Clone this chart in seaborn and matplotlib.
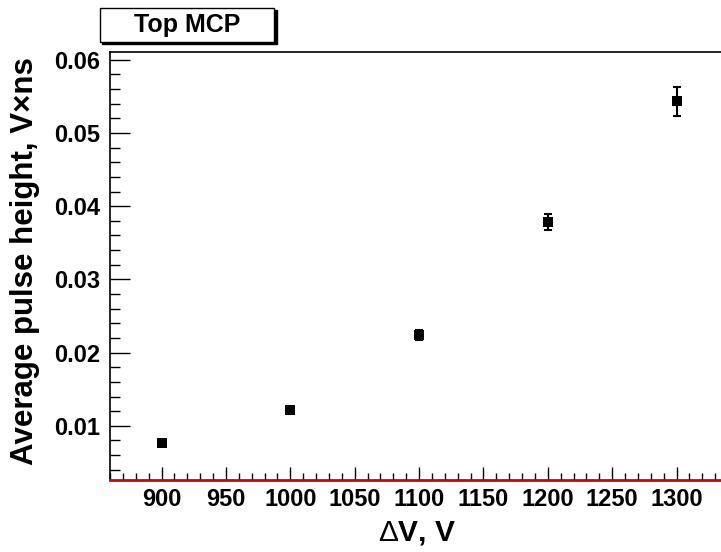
import matplotlib
matplotlib.use("Agg")
import matplotlib.pyplot as plt
import seaborn as sns
import pandas as pd
from matplotlib.ticker import MultipleLocator
from matplotlib.patches import Rectangle

voltage = [900, 1000, 1100, 1200, 1300]
pulse_height = [0.0076, 0.0122, 0.0224, 0.0378, 0.0543]
pulse_err = [0.0003, 0.0004, 0.0007, 0.0011, 0.0020]
x_ticks = [900, 950, 1000, 1050, 1100, 1150, 1200, 1250, 1300]
y_ticks = [0.01, 0.02, 0.03, 0.04, 0.05, 0.06]

df = pd.DataFrame({"dV": voltage, "ph": pulse_height, "err": pulse_err})

sns.set_style("white")
plt.rcParams['font.family'] = ['Liberation Sans', 'DejaVu Sans']
plt.rcParams['text.color'] = 'black'
plt.rcParams['axes.labelcolor'] = 'black'
plt.rcParams['xtick.color'] = 'black'
plt.rcParams['ytick.color'] = 'black'
plt.rcParams['mathtext.fontset'] = 'custom'
plt.rcParams['mathtext.rm'] = 'Liberation Sans'
plt.rcParams['mathtext.it'] = 'Liberation Sans:italic'
plt.rcParams['mathtext.bf'] = 'Liberation Sans:bold'

fig = plt.figure(figsize=(7.21, 5.52), dpi=100)
ax = fig.add_axes([110/721, 1-480/552, (728-110)/721, (480-51.7)/552])

ax.errorbar(df["dV"], df["ph"], yerr=df["err"], fmt="none", ecolor="black",
            elinewidth=1.5, capsize=3, capthick=1.5, zorder=2)
sns.scatterplot(data=df, x="dV", y="ph", marker="s", s=50, color="black",
                edgecolor="black", linewidth=0, ax=ax, zorder=3)

ax.set_xlim(860, 1340)
ax.set_ylim(0.0026, 0.0611)
ax.set_xticks(x_ticks)
ax.set_xticklabels([str(v) for v in x_ticks])
ax.set_yticks(y_ticks)
ax.set_yticklabels([f"{v:.2f}" for v in y_ticks])
ax.xaxis.set_minor_locator(MultipleLocator(10))
ax.yaxis.set_minor_locator(MultipleLocator(0.002))

ax.tick_params(axis="x", which="both", bottom=True, top=False, direction="in", color="black")
ax.tick_params(axis="y", which="both", left=True, right=False, direction="in", color="black")
ax.tick_params(axis="x", which="major", length=9.4, width=1, labelsize=17, pad=6)
ax.tick_params(axis="x", which="minor", length=5, width=1)
ax.tick_params(axis="y", which="major", length=14.4, width=1, labelsize=17, pad=7)
ax.tick_params(axis="y", which="minor", length=7.2, width=1)
for lab in ax.get_xticklabels() + ax.get_yticklabels():
    lab.set_fontweight("bold")

for s in ["left", "top"]:
    ax.spines[s].set_color("black")
    ax.spines[s].set_linewidth(1.2)
ax.spines["right"].set_visible(False)
ax.spines["bottom"].set_color("#d40000")
ax.spines["bottom"].set_linewidth(2)

ax.set_xlabel(r"$\Delta$V, V", fontsize=21.5, fontweight="bold")
ax.xaxis.set_label_coords((417 - 110) / (728 - 110), -(533 - 480) / 428.3)
ax.xaxis.label.set_va("center")
ax.set_ylabel("Average pulse height, V×ns", fontsize=22.5, fontweight="bold")
ax.yaxis.set_label_coords(-(110 - 25) / 618, (480 - 261) / 428.3)
ax.yaxis.label.set_va("center")

# title box with shadow
fig.patches.append(Rectangle((102/721, 1-44/552), 175/721, 34/552, transform=fig.transFigure,
                             facecolor="black", edgecolor="black", zorder=5))
fig.patches.append(Rectangle((100/721, 1-42/552), 174/721, 34/552, transform=fig.transFigure,
                             facecolor="white", edgecolor="black", linewidth=1, zorder=6))
fig.text(187/721, 1-25/552, "Top MCP", ha="center", va="center", fontsize=18,
         fontweight="bold", zorder=7)

fig.savefig("out.png", dpi=100)
